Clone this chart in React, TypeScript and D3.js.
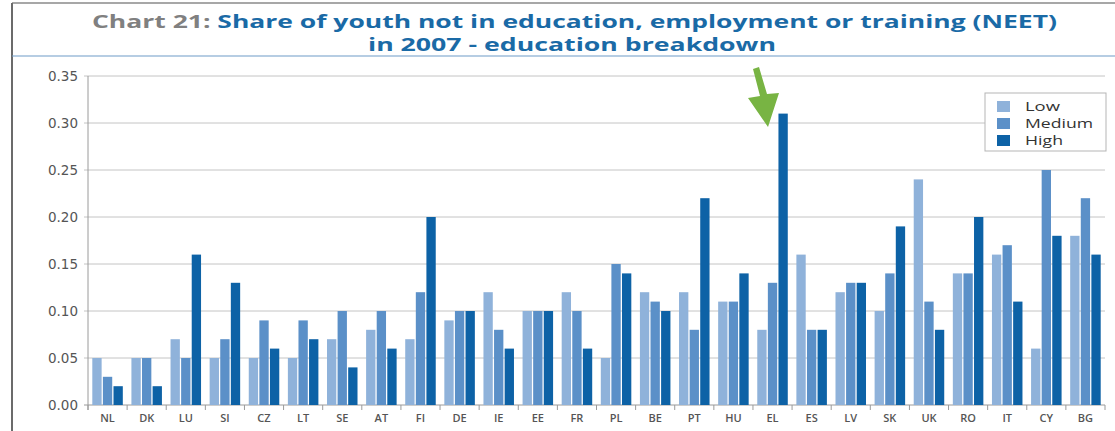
import React from "react";
import * as d3 from "d3";

const categories = ["NL","DK","LU","SI","CZ","LT","SE","AT","FI","DE","IE","EE","FR","PL","BE","PT","HU","EL","ES","LV","SK","UK","RO","IT","CY","BG"];
const lowValues =    [0.05,0.05,0.07,0.05,0.05,0.05,0.07,0.08,0.07,0.09,0.12,0.10,0.12,0.05,0.12,0.12,0.11,0.08,0.16,0.12,0.10,0.24,0.14,0.16,0.06,0.18];
const mediumValues = [0.03,0.05,0.05,0.07,0.09,0.09,0.10,0.10,0.12,0.10,0.08,0.10,0.10,0.15,0.11,0.08,0.11,0.13,0.08,0.13,0.14,0.11,0.14,0.17,0.25,0.22];
const highValues =   [0.02,0.02,0.16,0.13,0.06,0.07,0.04,0.06,0.20,0.10,0.06,0.10,0.06,0.14,0.10,0.22,0.14,0.31,0.08,0.13,0.19,0.08,0.20,0.11,0.18,0.16];
const seriesNames = ["Low","Medium","High"];
const seriesColors = ["#8fb2da","#5b90c8","#0d62a6"];
const legendWidths = [35, 68, 38];
const yTicks = [0,0.05,0.10,0.15,0.20,0.25,0.30,0.35];

const W = 1115, H = 431;
const left = 88, right = 1105, top = 76, bottom = 405;

export default function App() {
  const series = [lowValues, mediumValues, highValues];
  const x0 = d3.scaleBand<string>().domain(categories).range([left, right]).paddingInner(0.22).paddingOuter(0.11);
  const x1 = d3.scaleBand<string>().domain(seriesNames).range([0, x0.bandwidth()]).paddingInner(0.12);
  const y = d3.scaleLinear().domain([0, 0.35]).range([bottom, top]);
  const step = x0.step();
  const boundaries = d3.range(categories.length + 1).map(i => left + i * step);

  return (
    <svg width={W} height={H} style={{ position: "absolute", left: 0, top: 0, background: "#fff" }}>
      {/* frame */}
      <line x1={12} x2={W} y1={3} y2={3} stroke="#8a8a8a" strokeWidth={1.5} />
      <line x1={12} x2={12} y1={3} y2={H} stroke="#6b6b6b" strokeWidth={2} />
      <line x1={12} x2={W} y1={56} y2={56} stroke="#6f9cc8" strokeWidth={1.2} />

      {/* title */}
      <text x={92} y={28} fontFamily="'Open Sans', sans-serif" fontWeight={700} fontSize={18.5}
        textLength={965} lengthAdjust="spacingAndGlyphs">
        <tspan fill="#808080">Chart 21: </tspan>
        <tspan fill="#1a6aa6">Share of youth not in education, employment or training (NEET)</tspan>
      </text>
      <text x={368} y={51} fontFamily="'Open Sans', sans-serif" fontWeight={700} fontSize={18.5}
        fill="#1a6aa6" textLength={408} lengthAdjust="spacingAndGlyphs">in 2007 - education breakdown</text>

      {/* gridlines & y axis */}
      {yTicks.map(t => (
        <g key={t}>
          <line x1={left - 4} x2={right} y1={y(t)} y2={y(t)} stroke={t === 0 ? "#9a9a9a" : "#c4c4c4"} strokeWidth={1} />
          <text x={78} y={y(t) + 5} textAnchor="end" fontFamily="'DejaVu Sans', sans-serif" fontSize={13.5} fill="#555">
            {t.toFixed(2)}
          </text>
        </g>
      ))}
      <line x1={left} x2={left} y1={top} y2={bottom + 5} stroke="#9a9a9a" strokeWidth={1} />

      {/* x ticks */}
      {boundaries.map((b, i) => (
        <line key={i} x1={b} x2={b} y1={bottom} y2={bottom + 5} stroke="#9a9a9a" strokeWidth={1} />
      ))}

      {/* bars */}
      {categories.map((c, i) => (
        <g key={c}>
          {series.map((vals, s) => (
            <rect key={s}
              x={(x0(c) as number) + (x1(seriesNames[s]) as number)}
              y={y(vals[i])}
              width={x1.bandwidth()}
              height={bottom - y(vals[i])}
              fill={seriesColors[s]} />
          ))}
          <text x={(x0(c) as number) + x0.bandwidth() / 2} y={422} textAnchor="middle"
            fontFamily="'Open Sans', sans-serif" fontWeight={600} fontSize={11} fill="#555">{c}</text>
        </g>
      ))}

      {/* legend */}
      <rect x={985} y={93} width={121} height={58} fill="#fff" stroke="#b5b5b5" strokeWidth={1} />
      {seriesNames.map((n, s) => (
        <g key={n}>
          <rect x={997} y={101 + s * 17} width={13} height={11} fill={seriesColors[s]} />
          <text x={1025} y={111 + s * 17} fontFamily="'Open Sans', sans-serif" fontSize={13.5} fill="#333"
            textLength={legendWidths[s]} lengthAdjust="spacingAndGlyphs">{n}</text>
        </g>
      ))}

      {/* green arrow */}
      <polygon points="753,69 759,67 767,94 779,93 768,127 748,98 760,96" fill="#78b443" />
    </svg>
  );
}
